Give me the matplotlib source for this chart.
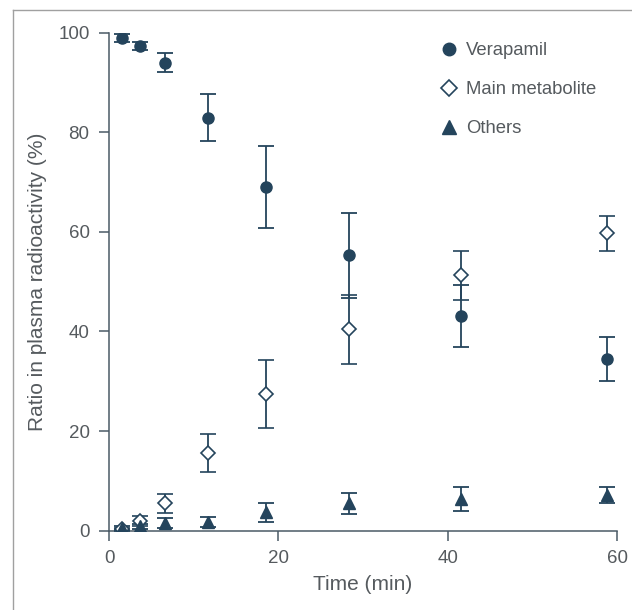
import matplotlib
matplotlib.use("Agg")
import matplotlib.pyplot as plt
from matplotlib.lines import Line2D

# Time points (min)
time = [1.5, 3.7, 6.6, 11.7, 18.5, 28.3, 41.6, 58.8]

# Verapamil (%), mean and error
verapamil = [99.0, 97.4, 94.0, 83.0, 69.0, 55.3, 43.1, 34.4]
verapamil_err = [0.8, 0.8, 1.9, 4.8, 8.3, 8.6, 6.3, 4.4]

# Main metabolite (%)
metabolite = [0.3, 2.0, 5.5, 15.5, 27.5, 40.4, 51.3, 59.7]
metabolite_err = [0.3, 1.0, 1.9, 3.8, 6.8, 6.9, 4.9, 3.6]

# Others (%)
others = [0.6, 0.9, 1.5, 1.8, 3.7, 5.5, 6.3, 7.2]
others_err = [0.4, 0.5, 1.0, 1.0, 1.9, 2.1, 2.4, 1.6]

labels = ["Verapamil", "Main metabolite", "Others"]

ink = "#24445c"
text_col = "#555a5e"

plt.rcParams["font.family"] = ["Liberation Sans", "DejaVu Sans"]

fig = plt.figure(figsize=(6.32, 6.10), dpi=100)
ax = fig.add_axes([0.1725, 0.1303, 0.8038, 0.8157])

common = dict(linestyle="none", ecolor=ink, elinewidth=1.3, capsize=6,
              capthick=1.3, zorder=3)
ax.errorbar(time, verapamil, yerr=verapamil_err, marker="o", markersize=8,
            color=ink, markeredgecolor=ink, **common)
ax.errorbar(time, metabolite, yerr=metabolite_err, marker="D", markersize=7.5,
            color=ink, markerfacecolor="white", markeredgecolor=ink,
            markeredgewidth=1.2, **common)
ax.errorbar(time, others, yerr=others_err, marker="^", markersize=9,
            color=ink, markeredgecolor=ink, **common)

ax.set_xlim(0, 60)
ax.set_ylim(0, 100)
ax.set_xticks([0, 20, 40, 60])
ax.set_yticks([0, 20, 40, 60, 80, 100])

for side in ["top", "right"]:
    ax.spines[side].set_visible(False)
for side in ["left", "bottom"]:
    ax.spines[side].set_color("#4a5a66")
    ax.spines[side].set_linewidth(1.1)

ax.tick_params(axis="both", direction="out", length=7, width=1.1,
               color="#4a5a66", labelcolor=text_col, labelsize=13.5, pad=7)

ax.set_xlabel("Time (min)", color=text_col, fontsize=15, labelpad=6)
ax.set_ylabel("Ratio in plasma radioactivity (%)", color=text_col,
              fontsize=15, labelpad=8)

# legend with markers only (no error bars)
handles = [
    Line2D([], [], linestyle="none", marker="o", markersize=9, color=ink),
    Line2D([], [], linestyle="none", marker="D", markersize=8, color=ink,
           markerfacecolor="white", markeredgewidth=1.2),
    Line2D([], [], linestyle="none", marker="^", markersize=10, color=ink),
]
leg = ax.legend(handles, labels, loc="upper left", bbox_to_anchor=(0.615, 1.015),
                frameon=False, fontsize=13.3, labelspacing=1.2,
                handletextpad=0.3, handlelength=1.2, numpoints=1)
for t in leg.get_texts():
    t.set_color(text_col)

# scanned page frame (top and left edges)
fig.add_artist(Line2D([0.021, 0.021], [0.0, 0.984], transform=fig.transFigure,
                      color="#a0a0a0", linewidth=1.0))
fig.add_artist(Line2D([0.021, 1.0], [0.984, 0.984], transform=fig.transFigure,
                      color="#a0a0a0", linewidth=1.0))

fig.savefig("out.png", dpi=100)
